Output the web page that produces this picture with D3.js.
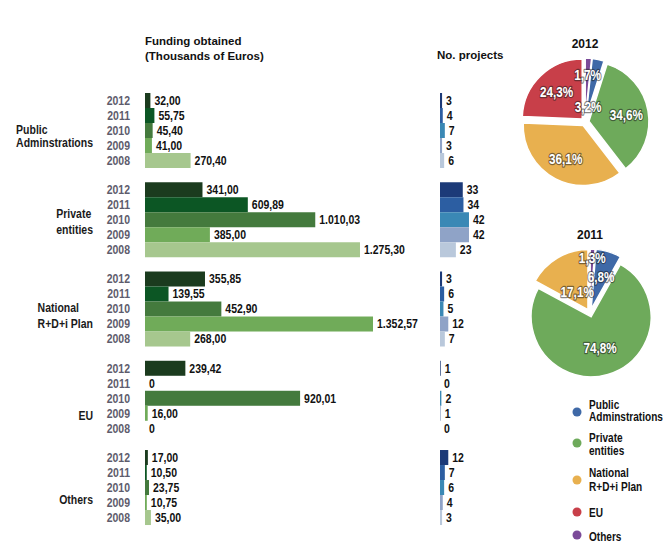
<!DOCTYPE html>
<html><head><meta charset="utf-8">
<script src="https://cdn.jsdelivr.net/npm/d3@7"></script>
<style>
body{margin:0;background:#fff;}
svg{display:block;}
</style></head>
<body>
<svg id="c" width="665" height="551"></svg>
<script>
// ---------- data ----------
const categories = ["Public Adminstrations", "Private entities", "National R+D+i Plan", "EU", "Others"];
const categoryLines = [["Public", "Adminstrations"], ["Private", "entities"], ["National", "R+D+i Plan"], ["EU"], ["Others"]];
const years = ["2012", "2011", "2010", "2009", "2008"];
const fundPublic   = [32.00, 55.75, 45.40, 41.00, 270.40];
const fundPrivate  = [341.00, 609.89, 1010.03, 385.00, 1275.30];
const fundNational = [355.85, 139.55, 452.90, 1352.57, 268.00];
const fundEU       = [239.42, 0, 920.01, 16.00, 0];
const fundOthers   = [17.00, 10.50, 23.75, 10.75, 35.00];
const projPublic   = [3, 4, 7, 3, 6];
const projPrivate  = [33, 34, 42, 42, 23];
const projNational = [3, 6, 5, 12, 7];
const projEU       = [1, 0, 2, 1, 0];
const projOthers   = [12, 7, 6, 4, 3];
const share2012 = [3.2, 34.6, 36.1, 24.3, 1.7];
const share2011 = [6.8, 74.8, 17.1, 0, 1.3];
const pieYears = ["2012", "2011"];

const funding = [fundPublic, fundPrivate, fundNational, fundEU, fundOthers];
const projects = [projPublic, projPrivate, projNational, projEU, projOthers];
const shares = [share2012, share2011];

// ---------- styles / layout ----------
const FONT = "'Liberation Sans',Arial,Helvetica,sans-serif";
const SQUEEZE = 0.84;
const greenYear = ["#1b3b1e", "#0c5624", "#447a3d", "#70ab59", "#a6c78e"];
const blueYear  = ["#1c3a78", "#2c5ea2", "#3a88b5", "#8fa3c7", "#b9c8db"];
const catColor  = ["#3f69a7", "#6eaa5b", "#e8b04f", "#c83f49", "#7b4b99"];
const labelBaselines = [[41, 54], [36, 52], [40, 56], [59], [54]];
const pieLabelR = [[15, 42, 42, 41, 47], [38, 36, 25, 0, 55]];
const pieCenters = [[585, 122], [590, 313]];

const loc = d3.formatLocale({decimal: ",", thousands: ".", grouping: [3], currency: ["", "€"]});
const fmtVal = v => v === 0 ? "0" : loc.format(",.2f")(v);
const fmtPct = v => loc.format(".1f")(v) + "%";

const svg = d3.select("#c");

// condensed bold text helper
function ntext(parent, x, y, str, size, anchor, fill) {
  return parent.append("text")
    .attr("transform", `translate(${x},${y}) scale(${SQUEEZE},1)`)
    .attr("text-anchor", anchor || "start")
    .attr("font-family", FONT).attr("font-weight", "bold")
    .attr("font-size", size + "px").attr("fill", fill || "#111")
    .text(str);
}

// scales
const yGroup = d3.scaleBand().domain(categories).range([93, 525]).paddingInner(0.16).paddingOuter(0);
const yRow = d3.scaleBand().domain(years).range([0, 75]).padding(0);
const xFund = d3.scaleLinear().domain([0, 1400]).range([145, 381]);
const xProj = d3.scaleLinear().domain([0, 50]).range([440, 474.5]);

// titles
const titles = svg.append("g").attr("font-family", FONT).attr("font-weight", "bold").attr("font-size", "11.5px").attr("fill", "#111");
titles.append("text").attr("x", 145).attr("y", 45).text("Funding obtained");
titles.append("text").attr("x", 145).attr("y", 60).text("(Thousands of Euros)");
titles.append("text").attr("x", 437).attr("y", 59).text("No. projects");

categories.forEach((cat, ci) => {
  const g = svg.append("g").attr("transform", `translate(0,${yGroup(cat)})`);
  // category label
  const lg = g.append("g");
  categoryLines[ci].forEach((ln, li) => {
    ntext(lg, 0, labelBaselines[ci][li], ln, 12.5, "start", "#1a1a1a");
  });
  const w = lg.node().getBBox().width;
  lg.attr("transform", `translate(${93 - w},0)`);

  years.forEach((yr, yi) => {
    const y0 = yRow(yr), h = yRow.bandwidth();
    const yb = y0 + h / 2 + 4.3;
    ntext(g, 130, yb, yr, 12.5, "end", "#5e5c6c");
    const fv = funding[ci][yi];
    g.append("rect").attr("x", xFund(0)).attr("y", y0).attr("width", xFund(fv) - xFund(0)).attr("height", h)
      .attr("fill", greenYear[yi]);
    ntext(g, xFund(fv) + 4, yb, fmtVal(fv), 12.5, "start", "#111");
    const pv = projects[ci][yi];
    g.append("rect").attr("x", xProj(0)).attr("y", y0).attr("width", xProj(pv) - xProj(0)).attr("height", h)
      .attr("fill", blueYear[yi]);
    ntext(g, xProj(pv) + 4, yb, pv, 12.5, "start", "#111");
  });
});

// pies
const R = 60, EXPLODE = 4;
const arc = d3.arc().innerRadius(0).outerRadius(R);
shares.forEach((sh, pi) => {
  const total = d3.sum(sh);
  const a0 = 2 * Math.PI * sh[4] / total;
  const pie = d3.pie().sort(null).value(d => d).startAngle(a0).endAngle(a0 + 2 * Math.PI);
  const arcs = pie(sh);
  const [cx, cy] = pieCenters[pi];
  const g = svg.append("g").attr("transform", `translate(${cx},${cy})`);
  svg.append("text").attr("x", cx).attr("y", cy - R - 14).attr("text-anchor", "middle")
    .attr("font-family", FONT).attr("font-weight", "bold").attr("font-size", "12px").attr("fill", "#111")
    .text(pieYears[pi]);
  arcs.forEach((a, i) => {
    if (a.value === 0) return;
    const m = (a.startAngle + a.endAngle) / 2;
    const dx = Math.sin(m) * EXPLODE, dy = -Math.cos(m) * EXPLODE;
    g.append("path").attr("d", arc(a)).attr("transform", `translate(${dx},${dy})`)
      .attr("fill", catColor[i]).attr("stroke", "#fff").attr("stroke-width", 1.5);
  });
  arcs.forEach((a, i) => {
    if (a.value === 0) return;
    const m = (a.startAngle + a.endAngle) / 2;
    const r = pieLabelR[pi][i];
    ntext(g, Math.sin(m) * r, -Math.cos(m) * r + 5, fmtPct(a.value), 14, "middle", "#fff")
      .attr("stroke", "rgba(30,30,30,0.55)").attr("stroke-width", 2.4)
      .attr("paint-order", "stroke").attr("stroke-linejoin", "round");
  });
});

// legend
const legY = [412, 443, 480, 512, 535];
const legBase = [[409, 421], [442, 455], [477, 491], [517], [541]];
categories.forEach((cat, i) => {
  svg.append("circle").attr("cx", 577).attr("cy", legY[i]).attr("r", 4.5).attr("fill", catColor[i]);
  categoryLines[i].forEach((ln, li) => {
    ntext(svg, 589, legBase[i][li], ln, 12, "start", "#111");
  });
});
</script>
</body></html>
